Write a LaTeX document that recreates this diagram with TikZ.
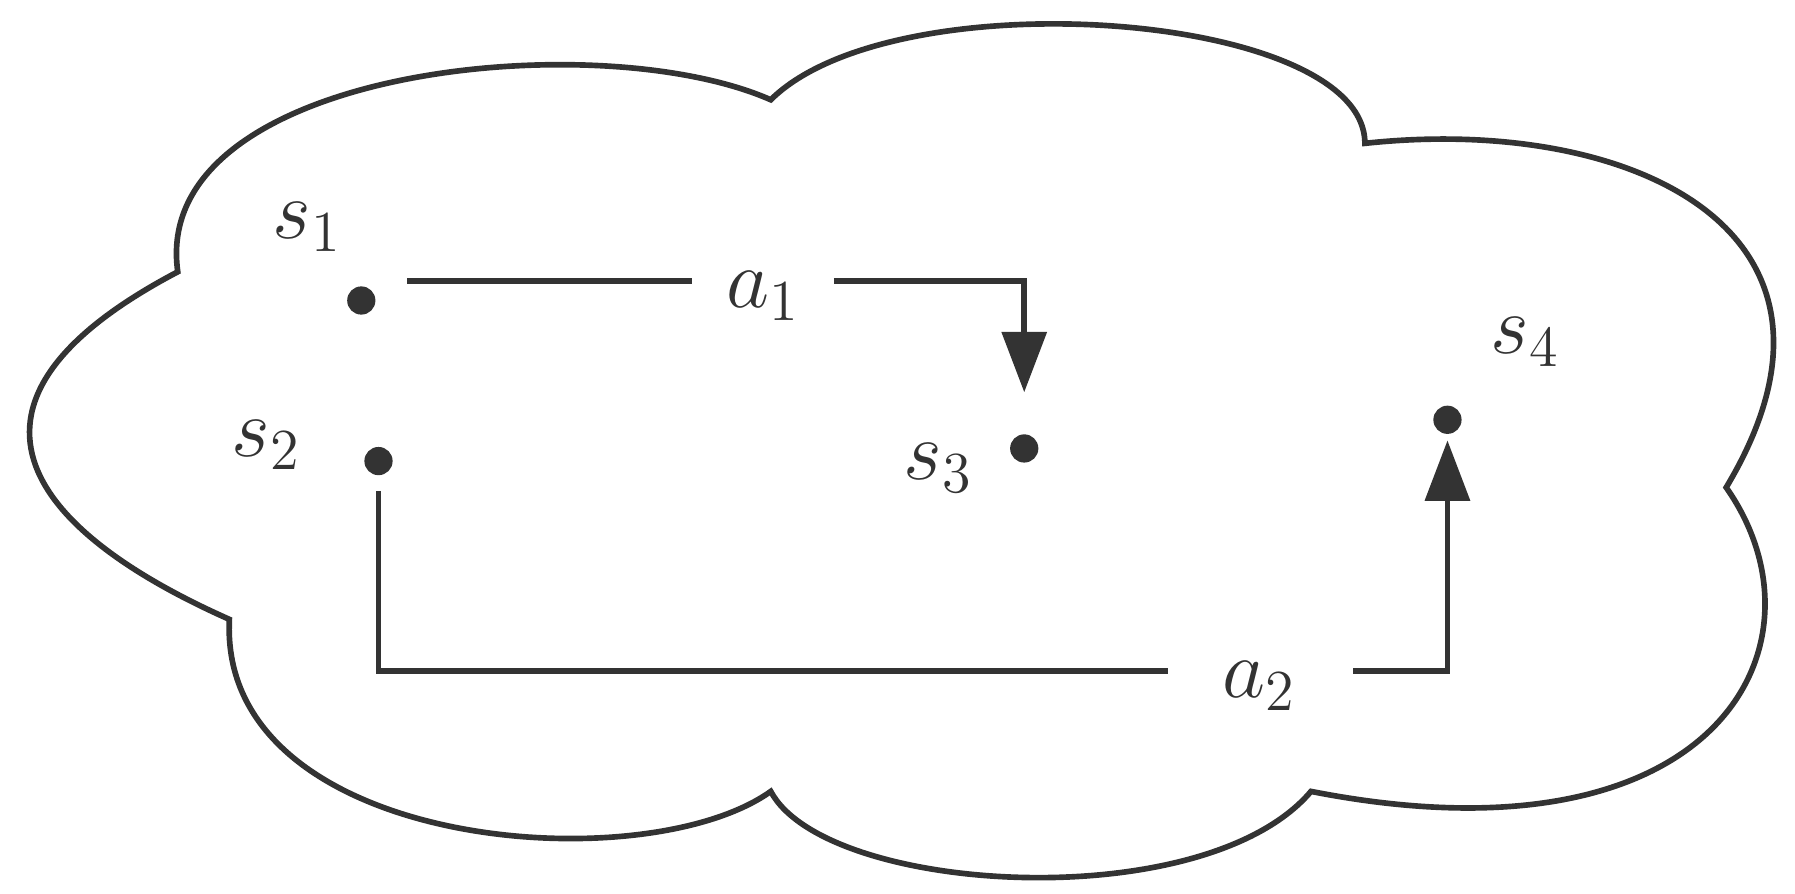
\documentclass[tikz,border=0pt]{standalone}
\usetikzlibrary{arrows.meta}
\definecolor{ink}{HTML}{333333}
\begin{document}
\begin{tikzpicture}[x=0.01cm,y=-0.01cm,
  ln/.style={draw=ink,line width=1.4pt},
  dot/.style={circle,fill=ink,inner sep=0pt,minimum size=7pt},
  lbl/.style={text=ink,font=\fontsize{20}{24}\selectfont},
  arr/.style={ln,-{Triangle[length=15pt,width=11pt]}}]
\useasboundingbox (0,0) rectangle (1565,779);
\draw[ln,line join=miter]
 (155,237) .. controls (130,60) and (520,20) .. (672,87)
 .. controls (780,-20) and (1190,10) .. (1190,125)
 .. controls (1420,100) and (1640,200) .. (1505,425)
 .. controls (1600,560) and (1500,760) .. (1143,690)
 .. controls (1050,800) and (720,780) .. (672,690)
 .. controls (560,770) and (190,740) .. (200,540)
 .. controls (20,460) and (-60,350) .. (155,237) -- cycle;
\node[dot] (s1) at (315,262) {};
\node[dot] (s2) at (330,402) {};
\node[dot] (s3) at (893,391) {};
\node[dot] (s4) at (1262,366) {};
\node[lbl] (l1) at (268,198) {$s_1$};
\node[lbl] (l2) at (232,388) {$s_2$};
\node[lbl] (l3) at (818,408) {$s_3$};
\node[lbl] (l4) at (1330,298) {$s_4$};
\node[lbl] (a1) at (665,258) {$a_1$};
\node[lbl] (a2) at (1098,598) {$a_2$};
\coordinate (p1) at (355,245);
\coordinate (q1) at (727,245);
\coordinate (e1) at (893,342);
\draw[ln] (p1) -- (603,245);
\draw[arr] (q1) -- (893,245) -- (e1);
\coordinate (p2) at (330,428);
\coordinate (e2) at (1262,384);
\draw[ln] (p2) -- (330,585) -- (1018,585);
\draw[arr] (1180,585) -- (1262,585) -- (e2);
\end{tikzpicture}
\end{document}
